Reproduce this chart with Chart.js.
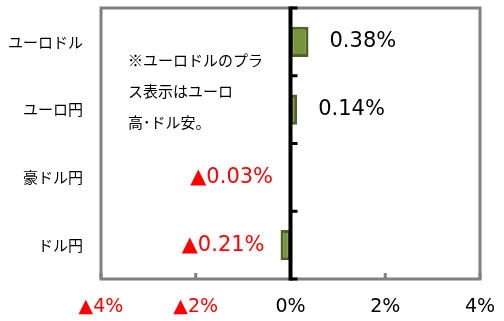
<!DOCTYPE html>
<html>
<head>
<meta charset="utf-8">
<script src="https://cdn.jsdelivr.net/npm/chart.js@4"></script>
<style>
  body { margin: 0; background: #fff; }
  #wrap { width: 504px; height: 321px; }
</style>
</head>
<body>
<div id="wrap"><canvas id="fx" width="504" height="321"></canvas></div>
<script>
// 前日比（%）
const categories = ['ユーロドル', 'ユーロ円', '豪ドル円', 'ドル円'];
const changes = [0.38, 0.14, -0.03, -0.21];
const xTicks = [-4, -2, 0, 2, 4];
const noteLines = ['※ユーロドルのプラ', 'ス表示はユーロ', '高･ドル安。'];

const numFont = '"DejaVu Sans", "Noto Sans CJK JP", sans-serif';
const jpFont = '"Noto Sans CJK JP", sans-serif';

function fmt(v) {
    return v < 0 ? '▲' + Math.abs(v).toFixed(2) + '%' : v.toFixed(2) + '%';
}

// chart.js adds room for half labels at the ends, the reference doesn't
function noPad(s) {
    s.paddingLeft = s.paddingRight = s.paddingTop = s.paddingBottom = 0;
}

const frame = {
    id: 'frame',
    afterDraw(chart) {
        const ctx = chart.ctx;
        const a = chart.chartArea;
        const xs = chart.scales.x;
        const x0 = xs.getPixelForValue(0);
        ctx.save();
        // gray box
        ctx.strokeStyle = '#808080';
        ctx.lineWidth = 3;
        ctx.strokeRect(a.left, a.top, a.right - a.left, a.bottom - a.top);
        // small gray ticks on bottom
        ctx.fillStyle = '#808080';
        xTicks.forEach(v => {
            if (v === 0) return;
            const px = xs.getPixelForValue(v);
            ctx.fillRect(px - 1.5, a.bottom - 6, 3, 6);
        });
        // zero line with category ticks
        ctx.strokeStyle = '#000';
        ctx.lineWidth = 4;
        ctx.beginPath();
        ctx.moveTo(x0, a.top - 1.5);
        ctx.lineTo(x0, a.bottom + 1.5);
        ctx.stroke();
        ctx.fillStyle = '#000';
        const step = (a.bottom - a.top) / categories.length;
        for (let i = 0; i <= categories.length; i++) {
            const py = a.top + step * i;
            ctx.fillRect(x0, py - 1.5, 7, 3);
        }
        // data labels
        const meta = chart.getDatasetMeta(0);
        ctx.font = '21px ' + numFont;
        ctx.textBaseline = 'middle';
        meta.data.forEach((bar, i) => {
            const v = changes[i];
            if (v >= 0) {
                ctx.fillStyle = '#000';
                ctx.textAlign = 'left';
                ctx.fillText(fmt(v), bar.x + 21, bar.y);
            } else {
                ctx.fillStyle = '#FF0000';
                ctx.textAlign = 'right';
                ctx.fillText(fmt(v), bar.x - 16, bar.y);
            }
        });
        // note
        ctx.fillStyle = '#000';
        ctx.textAlign = 'left';
        ctx.font = '15px ' + jpFont;
        noteLines.forEach((t, i) => {
            ctx.fillText(t, 128, 60 + i * 31);
        });
        ctx.restore();
    }
};

const config = {
    type: 'bar',
    data: {
        labels: categories,
        datasets: [{
            data: changes,
            backgroundColor: '#77933C',
            borderColor: '#4F6228',
            borderWidth: 3,
            borderSkipped: false,
            barPercentage: 0.45,
            categoryPercentage: 1
        }]
    },
    options: {
        indexAxis: 'y',
        responsive: false,
        animation: false,
        layout: { padding: { top: 8, right: 24, left: 0, bottom: 0 } },
        plugins: {
            legend: { display: false },
            tooltip: { enabled: false }
        },
        scales: {
            x: {
                min: -4,
                max: 4,
                afterBuildTicks: s => { s.ticks = xTicks.map(v => ({ value: v })); },
                afterFit: s => { s.height = 42; noPad(s); },
                grid: { display: false, drawTicks: false },
                border: { display: false },
                ticks: {
                    autoSkip: false,
                    maxRotation: 0,
                    padding: 17,
                    font: { family: numFont, size: 19 },
                    color: c => c.tick.value < 0 ? '#FF0000' : '#000',
                    callback: v => v < 0 ? '▲' + Math.abs(v) + '%' : v + '%'
                }
            },
            y: {
                afterFit: s => { s.width = 101; noPad(s); },
                grid: { display: false, drawTicks: false },
                border: { display: false },
                ticks: {
                    padding: 18,
                    font: { family: jpFont, size: 15 },
                    color: '#000'
                }
            }
        }
    },
    plugins: [frame]
};

const fxChart = new Chart(document.getElementById('fx'), config);
</script>
</body>
</html>
